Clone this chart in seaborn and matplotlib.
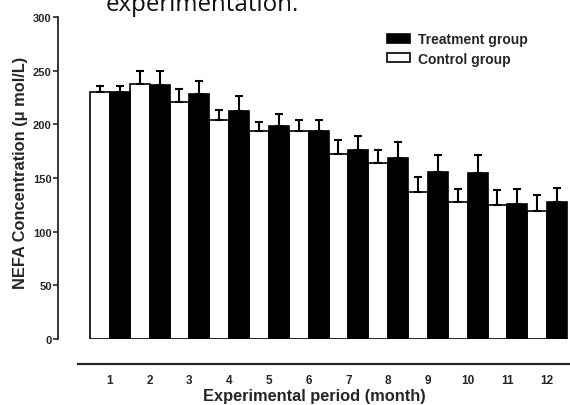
import numpy as np
import pandas as pd
import matplotlib
matplotlib.use('Agg')
import matplotlib.pyplot as plt
from matplotlib.patches import Patch
import seaborn as sns

# values (umol/L)
months = [str(m) for m in range(1, 13)]
control = [230, 238, 221, 204, 194, 194, 172, 164, 137, 128, 125, 119]
control_err = [6, 12, 12, 9, 8, 10, 13, 12, 14, 12, 14, 15]
treatment = [230, 237, 228, 212, 198, 194, 176, 169, 156, 155, 126, 128]
treatment_err = [6, 13, 12, 14, 12, 10, 13, 15, 15, 16, 14, 13]
groups = ['Control group', 'Treatment group']
y_ticks = [0, 50, 100, 150, 200, 250, 300]

df = pd.DataFrame({
    'month': months * 2,
    'group': [groups[0]] * 12 + [groups[1]] * 12,
    'value': control + treatment,
})
errs = {groups[0]: control_err, groups[1]: treatment_err}

sns.set_style('ticks')
plt.rcParams['font.family'] = ['Liberation Sans', 'DejaVu Sans']
plt.rcParams['font.weight'] = 'bold'

fig = plt.figure(figsize=(5.7, 4.06), dpi=100)
ax = fig.add_axes([58 / 570, 1 - 340 / 406, 1 - 58 / 570, (340 - 18) / 406])

sns.barplot(data=df, x='month', y='value', hue='group', hue_order=groups,
            palette={groups[0]: 'white', groups[1]: 'black'},
            edgecolor='black', linewidth=1.2, width=1.0, errorbar=None,
            legend=False, ax=ax)

# one-sided error bars on top of each bar
for cont, g in zip(ax.containers, groups):
    xs = [b.get_x() + b.get_width() / 2 for b in cont]
    ys = [b.get_height() for b in cont]
    ax.errorbar(xs, ys, yerr=[np.zeros(len(ys)), errs[g]], fmt='none',
                ecolor='black', elinewidth=1.5, capsize=3, capthick=1.5, zorder=3)

ax.set_xlim(-1.305, 11.575)
ax.set_ylim(0, 300)
ax.set_yticks(y_ticks)
ax.tick_params(axis='y', length=3.5, width=1.2, pad=1, labelsize=8)
ax.tick_params(axis='x', length=0, pad=7, labelsize=8.5)
for lab in ax.get_xticklabels() + ax.get_yticklabels():
    lab.set_fontweight('bold')

sns.despine(ax=ax)
ax.spines['left'].set_linewidth(1.3)
ax.spines['left'].set_bounds(0, 300)
ax.spines['bottom'].set_position(('outward', 18))
ax.spines['bottom'].set_linewidth(1.6)
ax.spines['bottom'].set_bounds(-0.8, 11.575)

ax.set_xlabel('Experimental period (month)', fontsize=11.8, fontweight='bold', labelpad=2)
ax.set_ylabel('NEFA Concentration (\u03bc mol/L)', fontsize=11.8, fontweight='bold')
ax.yaxis.set_label_coords(-30 / 512, 0.52)

handles = [Patch(facecolor='black', edgecolor='black', linewidth=1.2),
           Patch(facecolor='white', edgecolor='black', linewidth=1.2)]
ax.legend(handles, ['Treatment group', 'Control group'], frameon=False,
          loc='upper left', bbox_to_anchor=(387 / 570, 1 - 33 / 406),
          bbox_transform=fig.transFigure, borderaxespad=0, borderpad=0,
          handlelength=1.65, handleheight=0.6,
          handletextpad=0.55, labelspacing=0.4,
          prop={'weight': 'bold', 'size': 10})

# caption line cut off at the top of the scan
fig.text(106 / 570, 1 - 11 / 406, 'experimentation.', fontsize=17.4,
         family=['Open Sans', 'DejaVu Sans'], fontweight='normal',
         ha='left', va='baseline', color='#111111')

fig.savefig('out.png', dpi=100)
